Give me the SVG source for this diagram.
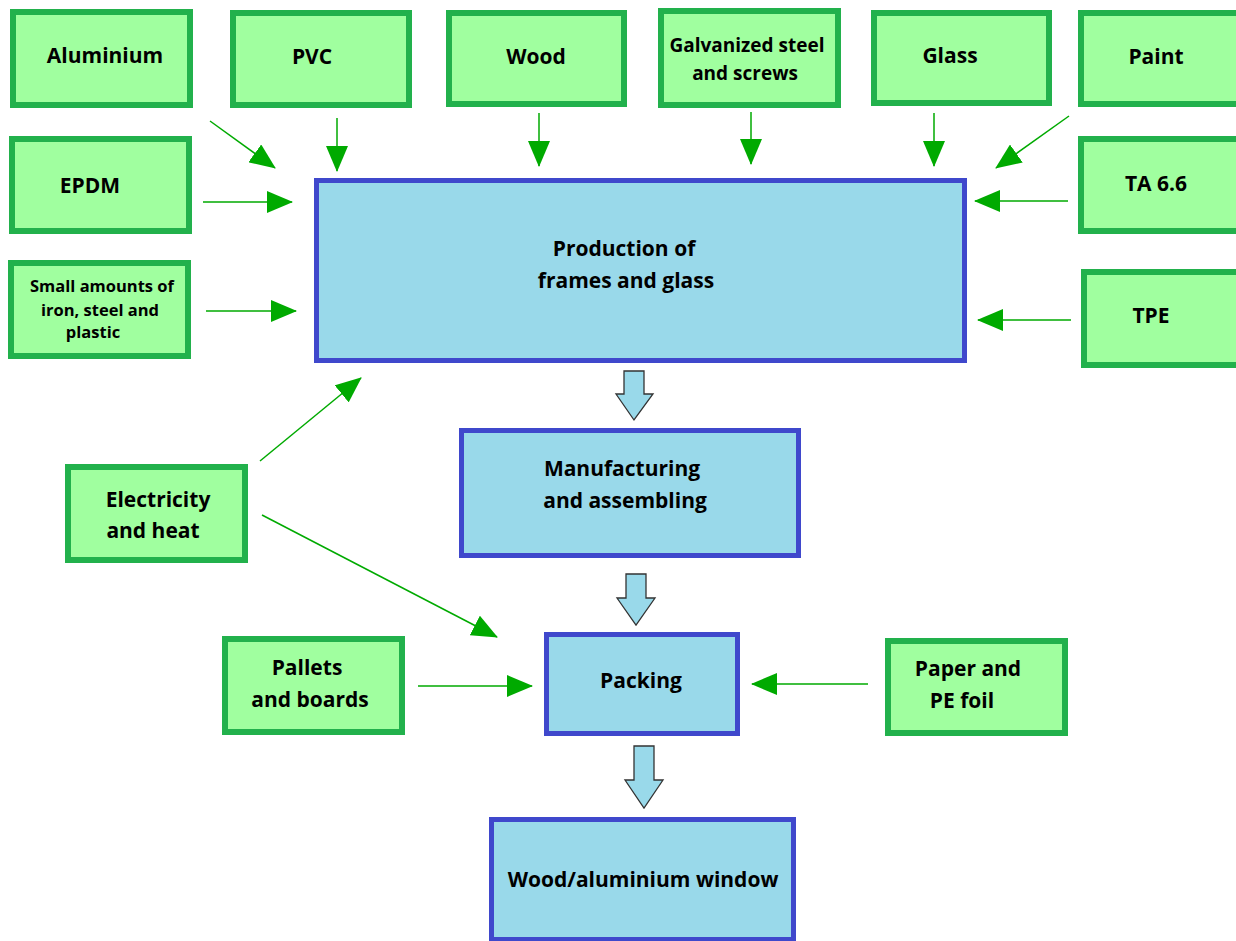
<svg xmlns="http://www.w3.org/2000/svg" width="1236" height="941" viewBox="0 0 1236 941">
<style>
.g{fill:#a0ff9f;stroke:#22b14c;stroke-width:6}
.b{fill:#99d9ea;stroke:#3f48cc;stroke-width:5}
.t{font-family:"Open Sans","Liberation Sans",sans-serif;font-weight:700;font-size:21px;fill:#000;text-anchor:middle}
.s{font-size:19px}
.xs{font-size:16.5px}
.c{stroke:#00aa00;stroke-width:1.5;fill:none;marker-end:url(#ah)}
.blk{fill:#99d9ea;stroke:#333;stroke-width:1.3}
</style>
<defs>
<marker id="ah" markerUnits="userSpaceOnUse" markerWidth="26" markerHeight="22" refX="25" refY="11" orient="auto">
<path d="M0,0 L26,11 L0,22 Z" fill="#00aa00"/>
</marker>
</defs>
<rect width="1236" height="941" fill="#fff"/>
<g id="connectors">
<line class="c" x1="210" y1="121" x2="275" y2="168"/>
<line class="c" x1="337" y1="118" x2="337" y2="171"/>
<line class="c" x1="539" y1="113" x2="539" y2="166"/>
<line class="c" x1="751" y1="112" x2="751" y2="164"/>
<line class="c" x1="934" y1="113" x2="934" y2="166"/>
<line class="c" x1="1069" y1="116" x2="996" y2="168"/>
<line class="c" x1="203" y1="202" x2="292" y2="202"/>
<line class="c" x1="206" y1="311" x2="296" y2="311"/>
<line class="c" x1="1068" y1="201" x2="975" y2="201"/>
<line class="c" x1="1071" y1="320" x2="978" y2="320"/>
<line class="c" x1="260" y1="461" x2="361" y2="378"/>
<line class="c" x1="262" y1="515" x2="497" y2="637"/>
<line class="c" x1="418" y1="686" x2="532" y2="686"/>
<line class="c" x1="868" y1="684" x2="752" y2="684"/>
<path class="blk" d="M624,371 H644 V394 H653 L634,420 L616,394 H624 Z"/>
<path class="blk" d="M626,574 H646 V598 H655 L636,625 L617,598 H626 Z"/>
<path class="blk" d="M634,746 H654 V780 H663 L644,808 L625,780 H634 Z"/>
</g>
<g id="aluminium"><rect class="g" x="13" y="12" width="177" height="93"/><text class="t" x="105" y="63">Aluminium</text></g>
<g id="pvc"><rect class="g" x="233" y="13" width="176" height="92"/><text class="t" x="312" y="64">PVC</text></g>
<g id="wood"><rect class="g" x="449" y="13" width="175" height="91"/><text class="t" x="536" y="64">Wood</text></g>
<g id="galvanized"><rect class="g" x="661" y="11" width="177" height="94"/><text class="t s" x="747" y="52">Galvanized steel</text><text class="t s" x="745" y="80">and screws</text></g>
<g id="glass"><rect class="g" x="874" y="13" width="175" height="90"/><text class="t" x="950" y="63">Glass</text></g>
<g id="paint"><rect class="g" x="1081" y="13" width="158" height="91"/><text class="t" x="1156" y="64">Paint</text></g>
<g id="epdm"><rect class="g" x="12" y="139" width="177" height="92"/><text class="t" x="90" y="193">EPDM</text></g>
<g id="ta66"><rect class="g" x="1081" y="139" width="158" height="92"/><text class="t" x="1156" y="191">TA 6.6</text></g>
<g id="small"><rect class="g" x="11" y="263" width="177" height="93"/><text class="t xs" x="102" y="292">Small amounts of</text><text class="t xs" x="100" y="316">iron, steel and</text><text class="t xs" x="93" y="338">plastic</text></g>
<g id="tpe"><rect class="g" x="1084" y="272" width="155" height="93"/><text class="t" x="1151" y="323">TPE</text></g>
<g id="electricity"><rect class="g" x="68" y="467" width="177" height="93"/><text class="t" x="158" y="507">Electricity</text><text class="t" x="153" y="538">and heat</text></g>
<g id="pallets"><rect class="g" x="225" y="639" width="177" height="93"/><text class="t" x="307" y="675">Pallets</text><text class="t" x="310" y="707">and boards</text></g>
<g id="paper"><rect class="g" x="888" y="641" width="177" height="92"/><text class="t" x="968" y="676">Paper and</text><text class="t" x="962" y="708">PE foil</text></g>
<g id="production"><rect class="b" x="316.5" y="180.5" width="648" height="180"/><text class="t" x="624" y="256">Production of</text><text class="t" x="626" y="288">frames and glass</text></g>
<g id="manufacturing"><rect class="b" x="461.5" y="430.5" width="337" height="125"/><text class="t" x="622" y="476">Manufacturing</text><text class="t" x="625" y="508">and assembling</text></g>
<g id="packing"><rect class="b" x="546.5" y="634.5" width="191" height="99"/><text class="t" x="641" y="688">Packing</text></g>
<g id="window"><rect class="b" x="491.5" y="819.5" width="302" height="120"/><text class="t" x="643" y="887">Wood/aluminium window</text></g>
</svg>
